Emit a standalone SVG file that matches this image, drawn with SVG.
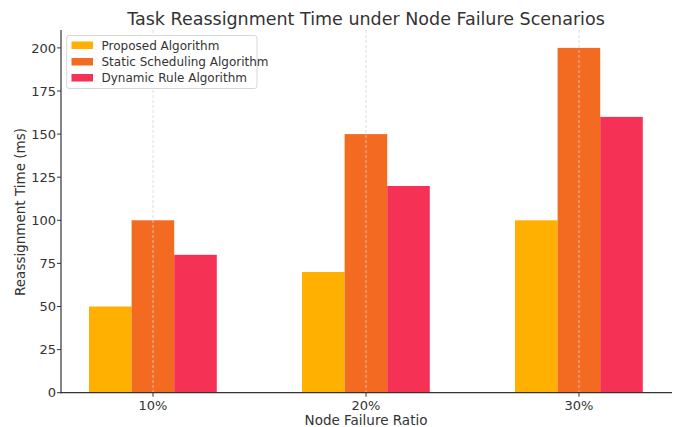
<svg xmlns="http://www.w3.org/2000/svg" width="677" height="427" viewBox="0 0 677 427">
<style>
text{font-family:"DejaVu Sans",sans-serif;fill:#333}
.tick{font-size:13px}
.yt{text-anchor:end}
.xt{text-anchor:middle}
.leg{font-size:12px}
.p{fill:#FFB000}
.s{fill:#F26B21}
.d{fill:#F53255}
.grid{stroke:#d4d4d4;stroke-width:0.8;stroke-dasharray:3,2}
.spine{stroke:#333;stroke-width:1.2}
.tk{stroke:#333;stroke-width:1}
</style>
<rect width="677" height="427" fill="#fff"/>
<text x="366" y="25" font-size="17.5" text-anchor="middle">Task Reassignment Time under Node Failure Scenarios</text>
<g id="bars">
<rect class="p" x="89" y="306.5" width="42.6" height="86.2"/>
<rect class="s" x="131.6" y="220.3" width="42.6" height="172.4"/>
<rect class="d" x="174.2" y="254.8" width="42.6" height="137.9"/>
<rect class="p" x="302" y="272" width="42.6" height="120.7"/>
<rect class="s" x="344.6" y="134.1" width="42.6" height="258.6"/>
<rect class="d" x="387.2" y="186" width="42.6" height="206.7"/>
<rect class="p" x="515" y="220.3" width="42.6" height="172.4"/>
<rect class="s" x="557.6" y="47.9" width="42.6" height="344.8"/>
<rect class="d" x="600.2" y="116.9" width="42.6" height="275.8"/>
</g>
<g id="grid">
<line class="grid" x1="153" y1="30" x2="153" y2="392.7"/>
<line class="grid" x1="366" y1="30" x2="366" y2="392.7"/>
<line class="grid" x1="579" y1="30" x2="579" y2="392.7"/>
</g>
<g id="axes">
<line class="spine" x1="61" y1="30" x2="61" y2="393.3"/>
<line class="spine" x1="60.4" y1="392.7" x2="672" y2="392.7"/>
<g class="tk">
<line x1="57" y1="392.7" x2="61" y2="392.7"/>
<line x1="57" y1="349.6" x2="61" y2="349.6"/>
<line x1="57" y1="306.5" x2="61" y2="306.5"/>
<line x1="57" y1="263.4" x2="61" y2="263.4"/>
<line x1="57" y1="220.3" x2="61" y2="220.3"/>
<line x1="57" y1="177.2" x2="61" y2="177.2"/>
<line x1="57" y1="134.1" x2="61" y2="134.1"/>
<line x1="57" y1="91" x2="61" y2="91"/>
<line x1="57" y1="47.9" x2="61" y2="47.9"/>
<line x1="153" y1="392.7" x2="153" y2="396.7"/>
<line x1="366" y1="392.7" x2="366" y2="396.7"/>
<line x1="579" y1="392.7" x2="579" y2="396.7"/>
</g>
<g class="tick yt">
<text x="56" y="397.4">0</text>
<text x="56" y="354.3">25</text>
<text x="56" y="311.2">50</text>
<text x="56" y="268.1">75</text>
<text x="56" y="225">100</text>
<text x="56" y="181.9">125</text>
<text x="56" y="138.8">150</text>
<text x="56" y="95.7">175</text>
<text x="56" y="52.6">200</text>
</g>
<g class="tick xt">
<text x="153" y="409.5">10%</text>
<text x="366" y="409.5">20%</text>
<text x="579" y="409.5">30%</text>
</g>
<text x="366" y="424.5" font-size="13.5" text-anchor="middle">Node Failure Ratio</text>
<text transform="translate(25,212) rotate(-90)" font-size="13.5" text-anchor="middle">Reassignment Time (ms)</text>
</g>
<g id="legend">
<rect x="66.7" y="35.5" width="190.3" height="53" rx="2.5" fill="#fff" fill-opacity="0.85" stroke="#d8d8d8" stroke-width="1"/>
<rect class="p" x="71.5" y="41.5" width="21.5" height="7.5"/>
<rect class="s" x="71.5" y="58" width="21.5" height="7.5"/>
<rect class="d" x="71.5" y="74" width="21.5" height="7.5"/>
<text class="leg" x="101.5" y="49.5">Proposed Algorithm</text>
<text class="leg" x="101.5" y="66">Static Scheduling Algorithm</text>
<text class="leg" x="101.5" y="82">Dynamic Rule Algorithm</text>
</g>
</svg>
